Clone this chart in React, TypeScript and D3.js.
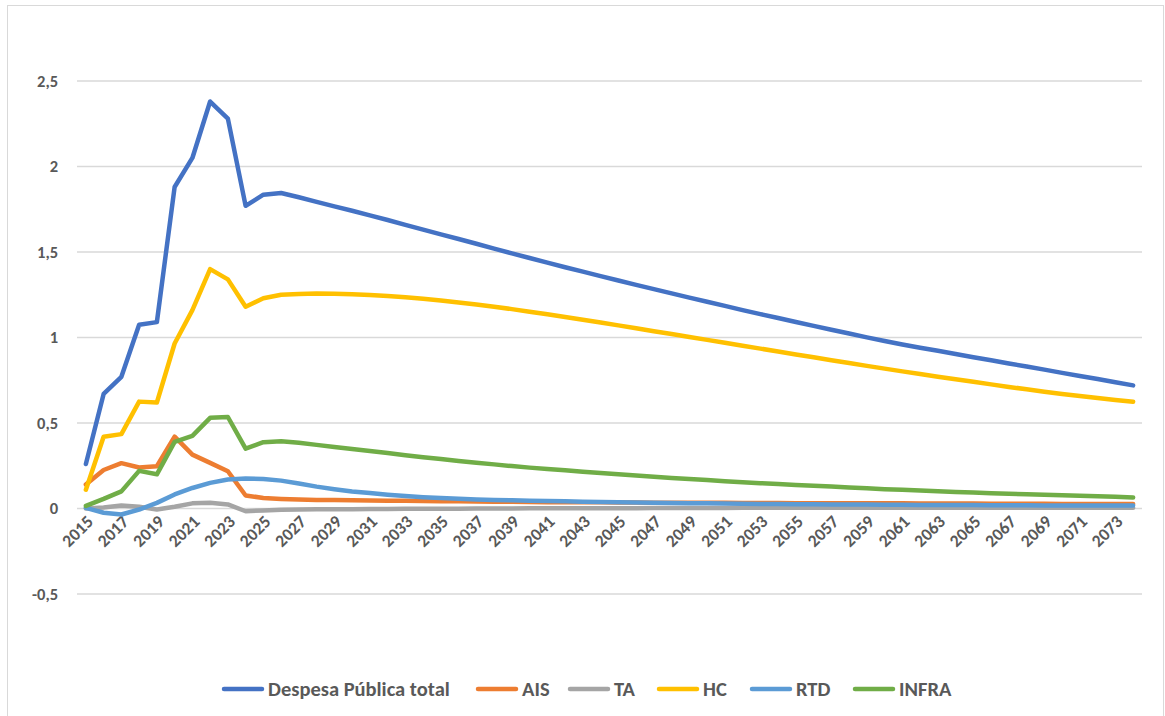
import React from 'react';
import * as d3 from 'd3';

const years = d3.range(2015, 2075);

const total = [0.26, 0.67, 0.77, 1.075, 1.09, 1.88, 2.05, 2.38, 2.28, 1.77, 1.835, 1.845, 1.82,
  1.793, 1.767, 1.741, 1.714, 1.687, 1.659, 1.631, 1.603, 1.576, 1.548, 1.52, 1.492,
  1.465, 1.438, 1.411, 1.385, 1.359, 1.333, 1.308, 1.283, 1.258, 1.233,
  1.209, 1.185, 1.16, 1.137, 1.114, 1.091, 1.068, 1.045, 1.023, 1.001,
  0.98, 0.959, 0.94, 0.922, 0.904, 0.885, 0.867, 0.848, 0.83, 0.812,
  0.793, 0.775, 0.757, 0.738, 0.72];

const ais = [0.14, 0.225, 0.265, 0.24, 0.247, 0.42, 0.315, 0.267, 0.218, 0.076, 0.062, 0.056, 0.052,
  0.05, 0.049, 0.048, 0.047, 0.046, 0.045, 0.044, 0.043, 0.042, 0.041, 0.04, 0.039,
  0.038, 0.037, 0.037, 0.036, 0.036, 0.035, 0.035, 0.034, 0.034, 0.033,
  0.033, 0.033, 0.032, 0.032, 0.032, 0.031, 0.031, 0.031, 0.03, 0.03,
  0.03, 0.03, 0.029, 0.029, 0.029, 0.029, 0.028, 0.028, 0.028, 0.028,
  0.027, 0.027, 0.027, 0.027, 0.027];

const ta = [0.0, 0.006, 0.018, 0.01, -0.006, 0.01, 0.03, 0.033, 0.024, -0.016, -0.011, -0.008, -0.006,
  -0.005, -0.004, -0.004, -0.003, -0.003, -0.002, -0.002, -0.001, -0.001, 0, 0, 0,
  0.001, 0.001, 0.001, 0.002, 0.002, 0.002, 0.002, 0.003, 0.003, 0.003,
  0.003, 0.003, 0.004, 0.004, 0.004, 0.004, 0.004, 0.004, 0.004, 0.004,
  0.004, 0.004, 0.004, 0.004, 0.004, 0.004, 0.004, 0.004, 0.004, 0.004,
  0.004, 0.004, 0.004, 0.004, 0.004];

const hc = [0.11, 0.42, 0.435, 0.625, 0.62, 0.965, 1.16, 1.4, 1.34, 1.18, 1.23, 1.25, 1.255,
  1.257, 1.256, 1.253, 1.248, 1.242, 1.235, 1.226, 1.216, 1.205, 1.193, 1.18, 1.166,
  1.151, 1.136, 1.12, 1.104, 1.088, 1.071, 1.054, 1.037, 1.02, 1.003,
  0.986, 0.969, 0.952, 0.935, 0.918, 0.901, 0.884, 0.867, 0.851, 0.834,
  0.818, 0.802, 0.786, 0.771, 0.756, 0.741, 0.726, 0.711, 0.697, 0.683,
  0.67, 0.658, 0.646, 0.635, 0.624];

const rtd = [0.004, -0.025, -0.035, -0.006, 0.033, 0.082, 0.12, 0.15, 0.17, 0.175, 0.173, 0.163, 0.146,
  0.128, 0.113, 0.1, 0.09, 0.081, 0.073, 0.066, 0.061, 0.057, 0.053, 0.05, 0.048,
  0.046, 0.044, 0.042, 0.04, 0.038, 0.037, 0.035, 0.034, 0.032, 0.031,
  0.03, 0.029, 0.028, 0.027, 0.026, 0.025, 0.025, 0.024, 0.023, 0.023,
  0.022, 0.022, 0.021, 0.021, 0.02, 0.02, 0.019, 0.019, 0.019, 0.018,
  0.018, 0.018, 0.017, 0.017, 0.017];

const infra = [0.015, 0.056, 0.1, 0.22, 0.2, 0.39, 0.425, 0.53, 0.535, 0.35, 0.388, 0.393, 0.384,
  0.372, 0.36, 0.348, 0.336, 0.324, 0.312, 0.3, 0.289, 0.278, 0.268, 0.258, 0.248,
  0.239, 0.231, 0.223, 0.215, 0.207, 0.2, 0.193, 0.186, 0.179, 0.172,
  0.166, 0.16, 0.154, 0.148, 0.143, 0.138, 0.133, 0.128, 0.123, 0.118,
  0.113, 0.109, 0.105, 0.101, 0.097, 0.093, 0.089, 0.086, 0.083, 0.08,
  0.077, 0.074, 0.071, 0.068, 0.065];

const seriesNames = ['Despesa Pública total', 'AIS', 'TA', 'HC', 'RTD', 'INFRA'];
const seriesValues = [total, ais, ta, hc, rtd, infra];
const seriesColors = ['#4472C4', '#ED7D31', '#A5A5A5', '#FFC000', '#5B9BD5', '#70AD47'];

const yTicks = [-0.5, 0, 0.5, 1, 1.5, 2, 2.5];

const legendX = [224, 478, 570, 659, 752, 855];

const W = 1165;
const H = 716;
const FONT = "Carlito, 'Liberation Sans Narrow', 'Noto Sans', sans-serif";
const TEXT = '#595959';

export default function App() {
  const x = d3.scaleBand<number>().domain(years).range([77, 1142]);
  const cx = (yr: number) => (x(yr) as number) + x.bandwidth() / 2;
  const y = d3.scaleLinear().domain([-0.5, 2.5]).range([594, 81]);

  const line = d3.line<number>()
    .x((_, i) => cx(years[i]))
    .y(d => y(d));

  const fmt = (v: number) => String(v).replace('.', ',');

  return (
    <svg width={W} height={H} style={{ position: 'absolute', left: 0, top: 0, background: '#fff' }}
      fontFamily={FONT}>
      <rect x={0} y={0} width={W} height={H} fill="#fff" />
      <rect x={7.5} y={5.5} width={1156} height={720} fill="none" stroke="#D9D9D9" strokeWidth={1} />

      {yTicks.map(t => (
        <g key={t}>
          <line x1={77} x2={1142} y1={y(t)} y2={y(t)} stroke="#D9D9D9" strokeWidth={1.3} />
          <text x={58} y={y(t)} dy="0.35em" textAnchor="end" fontSize={16.5} fontWeight="bold" fill={TEXT}>
            {t < 0 ? '-' + fmt(-t) : fmt(t)}
          </text>
        </g>
      ))}

      {years.filter((_, i) => i % 2 === 0).map(yr => (
        <text key={yr} transform={`translate(${cx(yr) + 4},${y(0) + 10}) rotate(-45)`}
          textAnchor="end" dy="0.35em" fontSize={17.5} fontWeight="bold" fill={TEXT}>
          {yr}
        </text>
      ))}

      {seriesValues.map((vals, i) => (
        <path key={seriesNames[i]} d={line(vals) || ''} fill="none" stroke={seriesColors[i]}
          strokeWidth={4.5} strokeLinejoin="round" strokeLinecap="round" />
      ))}

      {seriesNames.map((name, i) => (
        <g key={name} transform={`translate(${legendX[i]},689)`}>
          <line x1={0} x2={38} y1={0} y2={0} stroke={seriesColors[i]} strokeWidth={4.5} strokeLinecap="round" />
          <text x={44} y={0} dy="0.35em" fontSize={20.5} fontWeight="bold" fill={TEXT}>{name}</text>
        </g>
      ))}
    </svg>
  );
}
